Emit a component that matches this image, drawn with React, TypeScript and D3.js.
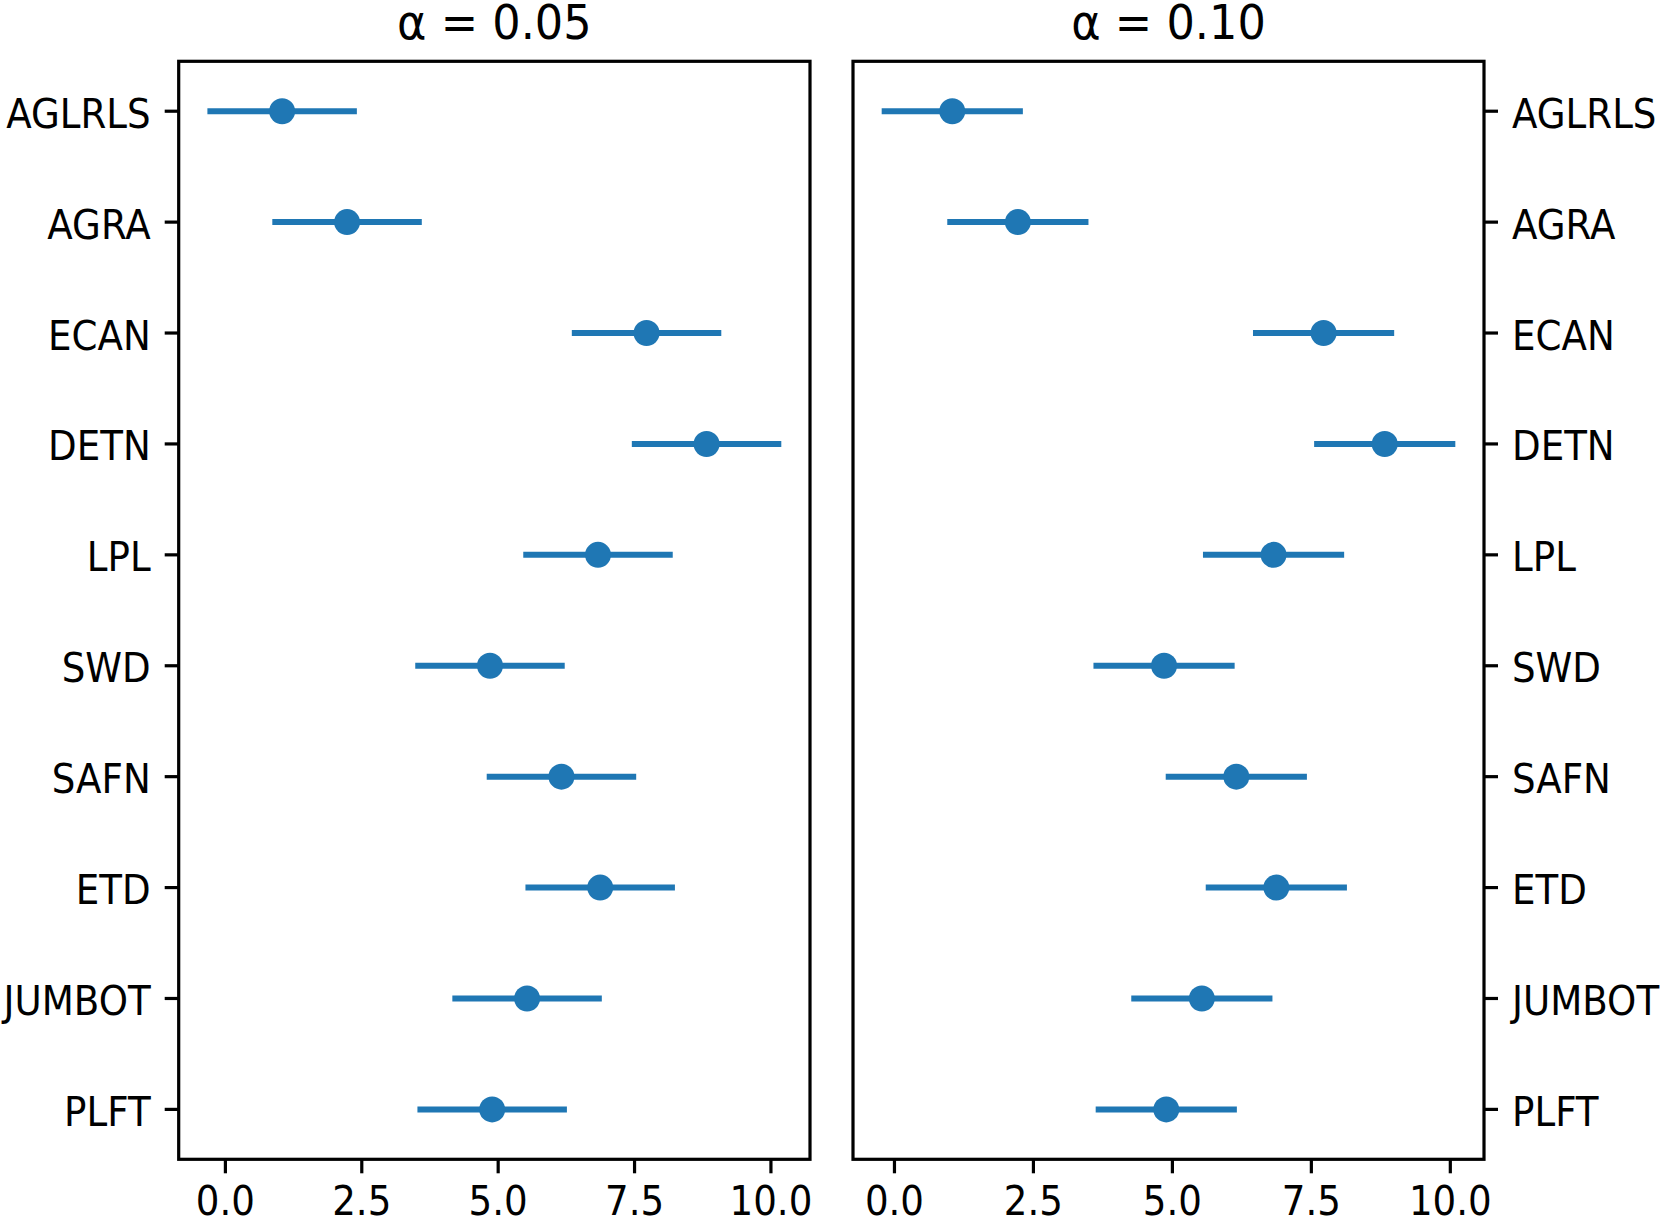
import React from "react";
import * as d3 from "d3";

const methods = ["AGLRLS", "AGRA", "ECAN", "DETN", "LPL", "SWD", "SAFN", "ETD", "JUMBOT", "PLFT"];
const titles = ["α = 0.05", "α = 0.10"];
const meansA05 = [1.04, 2.23, 7.72, 8.82, 6.83, 4.85, 6.16, 6.87, 5.53, 4.89];
const errA05 = [1.37, 1.37, 1.37, 1.37, 1.37, 1.37, 1.37, 1.37, 1.37, 1.37];
const meansA10 = [1.04, 2.22, 7.72, 8.82, 6.82, 4.85, 6.15, 6.87, 5.53, 4.89];
const errA10 = [1.27, 1.27, 1.27, 1.27, 1.27, 1.27, 1.27, 1.27, 1.27, 1.27];
const xTicks = [0, 2.5, 5, 7.5, 10];

const W = 1661;
const H = 1229;
const TOP = 61.3;
const BOTTOM = 1159.3;
const panels = [
  { x0: 178.7, x1: 810, means: meansA05, errs: errA05, side: "left", title: titles[0] },
  { x0: 853, x1: 1484, means: meansA10, errs: errA10, side: "right", title: titles[1] },
];
const COLOR = "#1f77b4";
const FONT = "DejaVu Sans";
const SX = 0.93;

function T({ x, y, anchor, size, children }: any) {
  return (
    <text
      transform={`translate(${x},${y}) scale(${SX},1)`}
      textAnchor={anchor}
      fontFamily={FONT}
      fontSize={size}
      fill="#000"
    >
      {children}
    </text>
  );
}

function Panel({ p }: { p: any }) {
  const lo = d3.min(p.means.map((m: number, i: number) => m - p.errs[i])) as number;
  const hi = d3.max(p.means.map((m: number, i: number) => m + p.errs[i])) as number;
  const r = hi - lo;
  const x = d3.scaleLinear().domain([lo - 0.05 * r, hi + 0.05 * r]).range([p.x0, p.x1]);
  const y = d3.scaleLinear().domain([-0.45, methods.length - 1 + 0.45]).range([TOP, BOTTOM]);
  const tickLen = 14;
  const sw = 3.2;
  return (
    <g>
      <T x={(p.x0 + p.x1) / 2} y={39} anchor="middle" size={48}>{p.title}</T>
      {methods.map((m, i) => (
        <g key={m}>
          <line x1={x(p.means[i] - p.errs[i])} x2={x(p.means[i] + p.errs[i])} y1={y(i)} y2={y(i)} stroke={COLOR} strokeWidth={6} />
          <circle cx={x(p.means[i])} cy={y(i)} r={13} fill={COLOR} />
        </g>
      ))}
      <rect x={p.x0} y={TOP} width={p.x1 - p.x0} height={BOTTOM - TOP} fill="none" stroke="#000" strokeWidth={sw} />
      {methods.map((m, i) => {
        const yy = y(i);
        if (p.side === "left") {
          return (
            <g key={"t" + m}>
              <line x1={p.x0 - tickLen} x2={p.x0} y1={yy} y2={yy} stroke="#000" strokeWidth={sw} />
              <T x={p.x0 - tickLen - 14} y={yy + 16.5} anchor="end" size={40}>{m}</T>
            </g>
          );
        }
        return (
          <g key={"t" + m}>
            <line x1={p.x1} x2={p.x1 + tickLen} y1={yy} y2={yy} stroke="#000" strokeWidth={sw} />
            <T x={p.x1 + tickLen + 14} y={yy + 16.5} anchor="start" size={40}>{m}</T>
          </g>
        );
      })}
      {xTicks.map((t) => (
        <g key={"x" + t}>
          <line x1={x(t)} x2={x(t)} y1={BOTTOM} y2={BOTTOM + tickLen} stroke="#000" strokeWidth={sw} />
          <T x={x(t)} y={1215} anchor="middle" size={40}>{d3.format(".1f")(t)}</T>
        </g>
      ))}
    </g>
  );
}

export default function App() {
  return (
    <svg width={W} height={H} viewBox={`0 0 ${W} ${H}`} style={{ position: "absolute", left: 0, top: 0, background: "#fff" }}>
      <rect width={W} height={H} fill="#fff" />
      {panels.map((p, i) => (
        <Panel key={i} p={p} />
      ))}
    </svg>
  );
}
